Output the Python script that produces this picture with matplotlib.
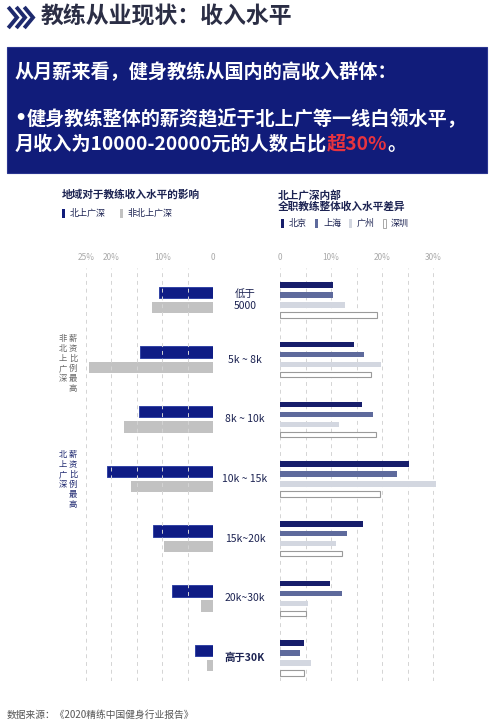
import numpy as np
import matplotlib
matplotlib.use('Agg')
import matplotlib.pyplot as plt
from matplotlib.patches import Rectangle
from matplotlib.lines import Line2D
import matplotlib.transforms as mtrans

plt.rcParams['font.family'] = ['Noto Sans CJK SC', 'DejaVu Sans']

# dane
categories = ['低于\n5000', '5k ~ 8k', '8k ~ 10k', '10k ~ 15k', '15k~20k', '20k~30k', '高于30K']
tier1 = [10.7, 14.3, 14.5, 20.8, 11.9, 8.2, 3.5]
non_tier1 = [12.0, 24.4, 17.5, 16.1, 9.7, 2.5, 1.3]
beijing = [10.3, 14.5, 16.1, 25.2, 16.2, 9.7, 4.6]
shanghai = [10.3, 16.4, 18.2, 22.9, 13.1, 12.2, 3.9]
guangzhou = [12.7, 19.8, 11.6, 30.5, 10.9, 5.4, 6.1]
shenzhen = [19.0, 17.9, 18.8, 19.5, 12.2, 5.0, 4.6]
left_legend = ['北上广深', '非北上广深']
right_legend = ['北京', '上海', '广州', '深圳']

W, H = 493, 724
NAVY = '#111c7a'
DARK = '#1c2352'
GRID = '#d4d4d4'


def fx(px):
    return px / W


def fy(py):
    return 1 - py / H


fig = plt.figure(figsize=(W / 100, H / 100), dpi=100)
fig.patch.set_facecolor('white')
renderer = fig.canvas.get_renderer()

# tytul z szewronami
for i in range(3):
    x0 = 9.5 + i * 8
    fig.add_artist(Line2D([fx(x0), fx(x0 + 7.5), fx(x0)], [fy(8.5), fy(17.5), fy(26.5)],
                          color='#1e2a6e', lw=2.8, solid_joinstyle='miter'))
fig.text(fx(41), fy(17), '教练从业现状：收入水平', fontsize=16.5, fontweight='bold',
         color='#2b2e45', va='center', ha='left')

# niebieskie pole
fig.add_artist(Rectangle((fx(7), fy(173)), fx(480), (173 - 47) / H,
                         transform=fig.transFigure, facecolor=NAVY, edgecolor='#2a3590', lw=0.8))
FS = 13.8
fig.text(fx(15), fy(72), '从月薪来看，健身教练从国内的高收入群体：', fontsize=FS,
         fontweight='bold', color='white', va='center')
b = fig.text(fx(14), fy(118), '•', fontsize=FS, fontweight='bold', color='white',
             va='center', family='DejaVu Sans')
bb = b.get_window_extent(renderer)
fig.text(bb.x1 / W, fy(118), '健身教练整体的薪资趋近于北上广等一线白领水平，', fontsize=FS,
         fontweight='bold', color='white', va='center')
t1 = fig.text(fx(15), fy(144), '月收入为10000-20000元的人数占比', fontsize=FS,
              fontweight='bold', color='white', va='center')
bb = t1.get_window_extent(renderer)
t2 = fig.text(bb.x1 / W, fy(144), '超30%', fontsize=FS, fontweight='bold',
              color='#e8333f', va='center')
bb2 = t2.get_window_extent(renderer)
fig.text(bb2.x1 / W, fy(144), '。', fontsize=FS, fontweight='bold', color='white', va='center')

# podtytuly i legendy
fig.text(fx(62), fy(195), '地域对于教练收入水平的影响', fontsize=7.7, fontweight='bold',
         color=DARK, va='center')
lx = [62, 120]
lc = [NAVY, '#c2c2c2']
for x, c, lab in zip(lx, lc, left_legend):
    fig.add_artist(Rectangle((fx(x), fy(218)), fx(3), 9 / H, transform=fig.transFigure,
                             facecolor=c, edgecolor='none'))
    fig.text(fx(x + 8), fy(213.5), lab, fontsize=6.5, color=DARK, va='center')

fig.text(fx(278), fy(195), '北上广深内部', fontsize=7.7, fontweight='bold', color=DARK, va='center')
fig.text(fx(278), fy(207), '全职教练整体收入水平差异', fontsize=7.7, fontweight='bold',
         color=DARK, va='center')
rx = [281, 315, 349, 383]
rc = ['#171e6b', '#5e6a9c', '#d3d7e0', 'white']
re = ['none', 'none', 'none', '#9a9a9a']
for x, c, e, lab in zip(rx, rc, re, right_legend):
    fig.add_artist(Rectangle((fx(x), fy(228)), fx(3), 9 / H, transform=fig.transFigure,
                             facecolor=c, edgecolor=e, lw=0.6))
    fig.text(fx(x + 8), fy(223.5), lab, fontsize=6.5, color=DARK, va='center')

# osie
top, bottom = 268, 681
ylim = (6.385, -0.536)
y = np.arange(len(categories))

axL = fig.add_axes([fx(83.4), fy(bottom), fx(213.3 - 83.4), (bottom - top) / H])
axR = fig.add_axes([fx(280), fy(bottom), fx(438.4 - 280), (bottom - top) / H])

axL.barh(y - 0.126, tier1, height=0.19, color='#0f1c85', edgecolor='#3243a5', lw=0.7, zorder=2)
axL.barh(y + 0.126, non_tier1, height=0.19, color='#c2c2c2', edgecolor='none', zorder=2)
for g in np.arange(0, 26, 5):
    axL.axvline(g, color=GRID, lw=0.7, ls=(0, (4, 4)), zorder=3)
axL.set_xlim(25.5, 0)
axL.set_xticks([0, 10, 20, 25])
axL.set_xticklabels(['0', '10%', '20%', '25%'])

offs = [-0.25, -0.084, 0.084, 0.25]
for vals, c, e, o in zip([beijing, shanghai, guangzhou, shenzhen], rc, re, offs):
    axR.barh(y + o, vals, height=0.092, color=c, edgecolor=e, lw=0.8, zorder=3)
for g in np.arange(0, 31, 5):
    axR.axvline(g, color=GRID, lw=0.7, ls=(0, (4, 4)), zorder=1)
axR.set_xlim(0, 31)
axR.set_xticks([0, 10, 20, 30])
axR.set_xticklabels(['0', '10%', '20%', '30%'])

for ax in (axL, axR):
    ax.set_ylim(*ylim)
    ax.set_yticks([])
    ax.xaxis.set_ticks_position('top')
    ax.tick_params(axis='x', length=0, pad=4, labelsize=6, labelcolor='#aaaaaa')
    for s in ax.spines.values():
        s.set_visible(False)
    ax.patch.set_alpha(0)

# etykiety kategorii
tr = mtrans.blended_transform_factory(fig.transFigure, axL.transData)
for i, cat in enumerate(categories):
    fw = 'bold' if cat.startswith('高于') else 'normal'
    fig.text(fx(245), i, cat, transform=tr, ha='center', va='center', fontsize=7.5,
             color=DARK, fontweight=fw, linespacing=1.3)

# pionowe opisy
def vtext(x, ytop, s, color):
    fig.text(fx(x), fy(ytop), '\n'.join(s), ha='center', va='top', fontsize=6,
             color=color, linespacing=1.15)


vtext(63, 334, '非北上广深', '#666666')
vtext(73, 334, '薪资比例最高', '#666666')
vtext(63, 450, '北上广深', '#1e2870')
vtext(73, 450, '薪资比例最高', '#1e2870')

fig.text(fx(7), fy(715), '数据来源：《2020精练中国健身行业报告》', fontsize=7,
         color='#555555', va='center')

fig.savefig('out.png', dpi=100)
